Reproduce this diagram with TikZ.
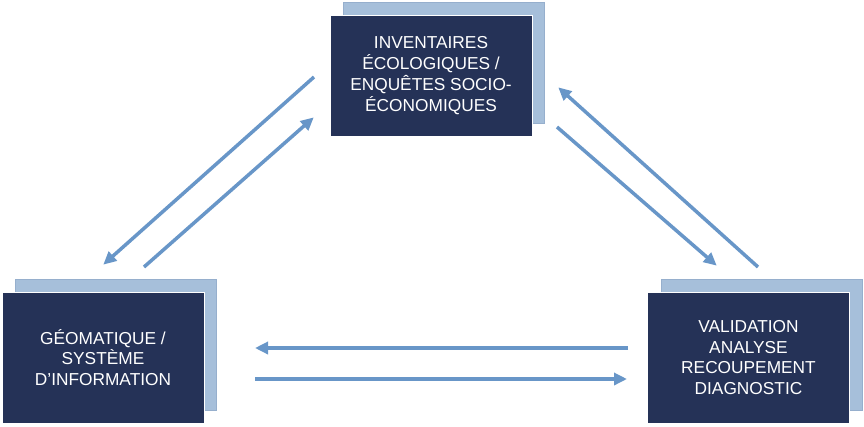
\documentclass[tikz,border=0pt]{standalone}
\usepackage{fontspec}
\setmainfont{Liberation Sans}
\usetikzlibrary{arrows.meta}
\definecolor{navy}{RGB}{37,50,87}
\definecolor{lightbox}{RGB}{166,191,218}
\definecolor{lightedge}{RGB}{150,175,205}
\definecolor{arrowblue}{RGB}{104,150,200}
\tikzset{
  backbox/.style={draw=lightedge, line width=0.6pt, fill=lightbox, minimum width=201pt, minimum height=121pt, inner sep=0pt},
  frontbox/.style={draw=white, line width=0.8pt, fill=navy, text=white, minimum width=202pt, minimum height=121pt, inner sep=0pt, align=center, font=\fontsize{17.3}{20.8}\selectfont},
  tall/.style={minimum height=131pt},
  flow/.style={draw=arrowblue, line width=3.5pt, -{Triangle[length=13pt,width=12pt]}, shorten >=-1pt}
}
\begin{document}
\begin{tikzpicture}[x=1pt,y=-1pt]
\useasboundingbox (0,0) rectangle (864,426);
% top
\node[backbox] (topb) at (444,63) {};
\node[frontbox] (top) at (431,75.5) {INVENTAIRES\\ÉCOLOGIQUES /\\ENQUÊTES SOCIO-\\ÉCONOMIQUES};
% left
\node[backbox,tall] (leftb) at (116,344.5) {};
\node[frontbox,tall] (left) at (103,357.5) {GÉOMATIQUE /\\SYSTÈME\\D’INFORMATION};
% right
\node[backbox,tall] (rightb) at (761.5,345) {};
\node[frontbox,tall] (right) at (748.5,357.5) {VALIDATION\\ANALYSE\\RECOUPEMENT\\DIAGNOSTIC};
% arrow endpoints
\coordinate (a1s) at (314,77);  \coordinate (a1e) at (104,264);
\coordinate (a2s) at (144,267); \coordinate (a2e) at (313,118);
\coordinate (b1s) at (758,267); \coordinate (b1e) at (559,88);
\coordinate (b2s) at (557,127); \coordinate (b2e) at (716,265);
\coordinate (c1s) at (628,348); \coordinate (c1e) at (256,348);
\coordinate (c2s) at (255,379); \coordinate (c2e) at (626,379);
\draw[flow] (a1s) -- (a1e);
\draw[flow] (a2s) -- (a2e);
\draw[flow] (b1s) -- (b1e);
\draw[flow] (b2s) -- (b2e);
\draw[flow] (c1s) -- (c1e);
\draw[flow] (c2s) -- (c2e);
\end{tikzpicture}
\end{document}
